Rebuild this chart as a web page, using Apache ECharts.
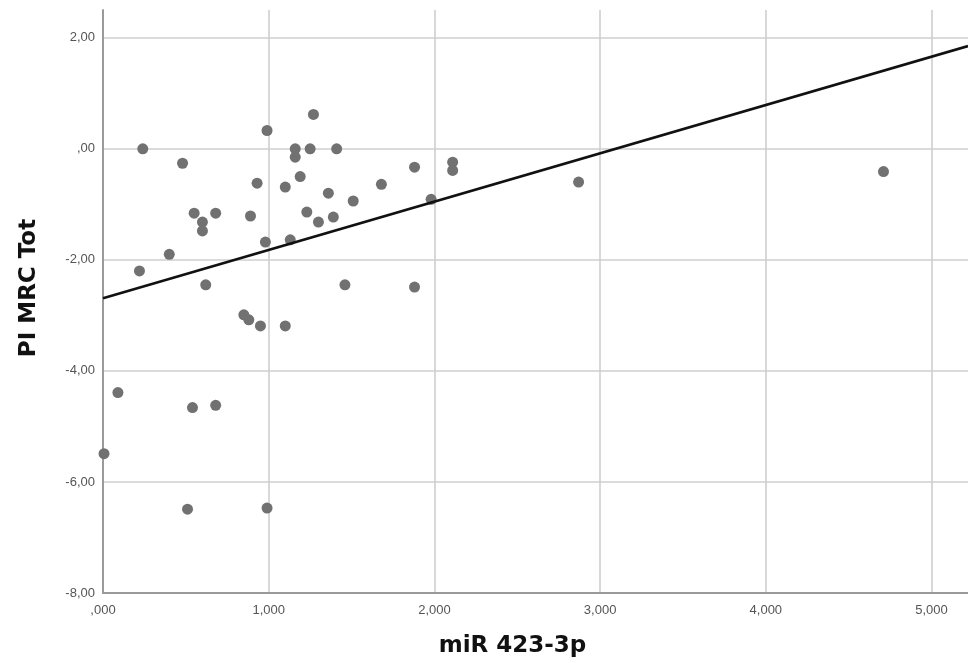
<!DOCTYPE html>
<html>
<head>
<meta charset="utf-8">
<script src="https://cdn.jsdelivr.net/npm/echarts@6/dist/echarts.min.js"></script>
<style>html,body{margin:0;padding:0;background:#fff;}#c{width:968px;height:663px;}</style>
</head>
<body>
<div id="c"></div>
<script>
// miR 423-3p values (x) and PI MRC Tot values (y)
var xValues = [0.006,0.09,0.24,0.22,0.40,0.48,0.55,0.60,0.60,0.68,0.62,0.54,0.68,0.51,0.99,0.85,0.88,0.95,1.10,0.93,0.89,0.99,0.98,1.10,1.16,1.16,1.19,1.25,1.27,1.23,1.30,1.13,1.36,1.39,1.41,1.51,1.68,1.88,1.46,1.88,1.98,2.11,2.11,2.87,4.71];
var yValues = [-5.49,-4.39,0.00,-2.20,-1.90,-0.26,-1.16,-1.32,-1.48,-1.16,-2.45,-4.66,-4.62,-6.49,-6.47,-2.99,-3.08,-3.19,-3.19,-0.62,-1.21,0.33,-1.68,-0.69,0.00,-0.15,-0.50,0.00,0.62,-1.14,-1.32,-1.64,-0.80,-1.23,0.00,-0.94,-0.64,-0.33,-2.45,-2.49,-0.91,-0.24,-0.39,-0.60,-0.41];
// fit line end points
var fitLineX = [0, 5.22];
var fitLineY = [-2.69, 1.85];
var xTicks = [0,1,2,3,4,5];
var yTicks = [-8,-6,-4,-2,0,2];

function fmt(v, d) {
  var s = Math.abs(v).toFixed(d).replace('.', ',');
  if (s.charAt(0) === '0') s = s.substring(1);
  return (v < 0 ? '-' : '') + s;
}

var points = xValues.map(function (x, i) { return [x, yValues[i]]; });
var fitLine = fitLineX.map(function (x, i) { return [x, fitLineY[i]]; });

var tickFont = { fontFamily: 'Liberation Sans Narrow, Liberation Sans, Arial, sans-serif', fontSize: 13, color: '#555' };
var nameFont = { fontFamily: 'DejaVu Sans, Liberation Sans, Arial, sans-serif', fontSize: 23, fontWeight: 'bold', color: '#111' };

var chart = echarts.init(document.getElementById('c'), null, { renderer: 'canvas' });
chart.setOption({
  animation: false,
  backgroundColor: '#fff',
  grid: { left: 103, right: 0, top: 10, bottom: 66, containLabel: false },
  xAxis: {
    type: 'value', min: 0, max: 5.22, interval: 1,
    name: 'miR 423-3p', nameLocation: 'middle', nameGap: 42,
    nameTextStyle: Object.assign({ padding: [0, 46, 0, 0] }, nameFont),
    axisLine: { show: true, onZero: false, lineStyle: { color: '#9a9a9a', width: 2 } },
    axisTick: { show: false },
    axisLabel: Object.assign({ margin: 11, showMaxLabel: false,
      formatter: function (v) { return xTicks.indexOf(v) >= 0 ? fmt(v, 3) : ''; } }, tickFont),
    splitLine: { show: true, showMaxLine: false, lineStyle: { color: '#cfcfcf', width: 1.6 } }
  },
  yAxis: {
    type: 'value', min: -8, max: 2.5, interval: 2,
    name: 'PI MRC Tot', nameLocation: 'middle', nameGap: 62,
    nameTextStyle: Object.assign({ padding: [0, 0, 0, 27] }, nameFont),
    axisLine: { show: true, onZero: false, lineStyle: { color: '#9a9a9a', width: 2 } },
    axisTick: { show: false },
    axisLabel: Object.assign({ margin: 8, showMaxLabel: false,
      formatter: function (v) { return yTicks.indexOf(v) >= 0 ? fmt(v, 2) : ''; } }, tickFont),
    splitLine: { show: true, showMaxLine: false, showMinLine: false, lineStyle: { color: '#cfcfcf', width: 1.6 } }
  },
  series: [
    {
      type: 'scatter', data: points, symbol: 'circle', symbolSize: 11,
      itemStyle: { color: '#717171', opacity: 1 }, clip: false, z: 3
    },
    {
      type: 'line', data: fitLine, symbol: 'none', smooth: false,
      lineStyle: { color: '#111', width: 2.6 }, z: 4, clip: false
    }
  ]
});
</script>
</body>
</html>
